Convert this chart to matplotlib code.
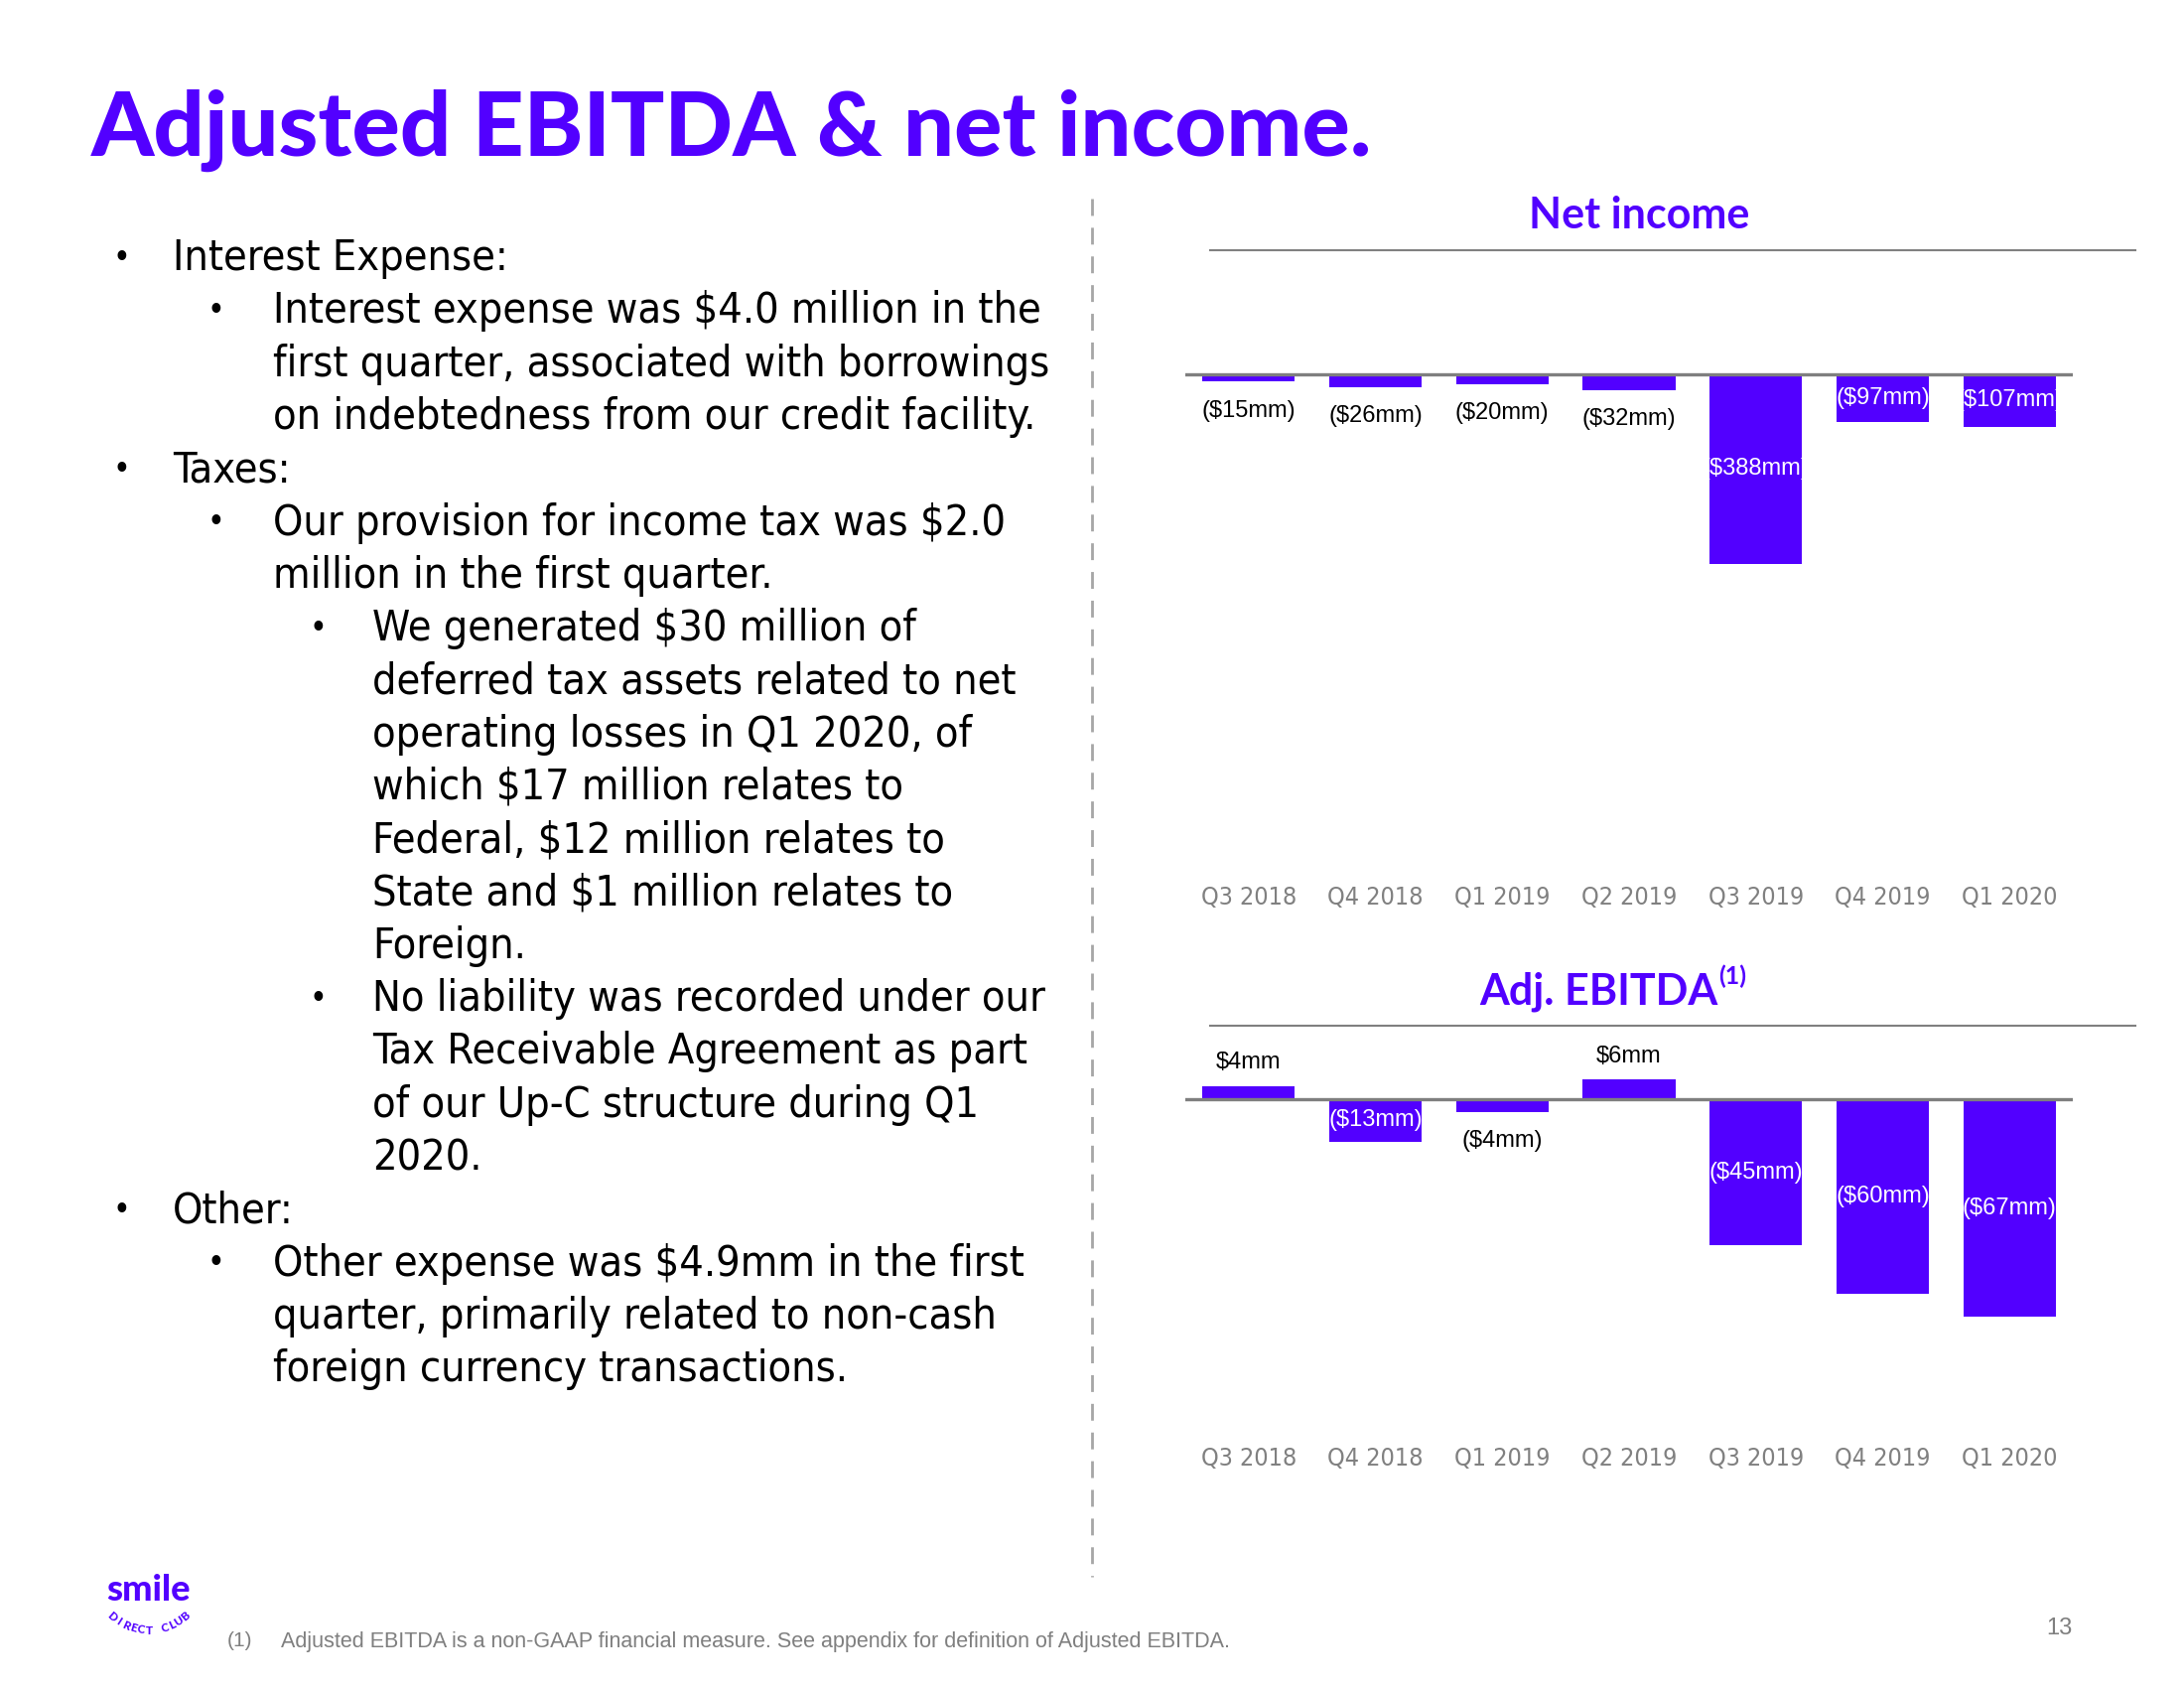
import matplotlib
matplotlib.use("Agg")
import matplotlib.pyplot as plt
from matplotlib.lines import Line2D
import numpy as np

W, H = 2200, 1700
purple = "#5200FF"
gray = "#7F7F7F"

quarters = ["Q3 2018", "Q4 2018", "Q1 2019", "Q2 2019", "Q3 2019", "Q4 2019", "Q1 2020"]
net_income = [-15, -26, -20, -32, -388, -97, -107]
net_income_labels = ["($15mm)", "($26mm)", "($20mm)", "($32mm)", "($388mm)", "($97mm)", "($107mm)"]
net_income_inside = [False, False, False, False, True, True, True]
adj_ebitda = [4, -13, -4, 6, -45, -60, -67]
adj_ebitda_labels = ["$4mm", "($13mm)", "($4mm)", "$6mm", "($45mm)", "($60mm)", "($67mm)"]
adj_ebitda_inside = [False, True, False, False, True, True, True]

bullets = [
    (1, ["Interest Expense:"]),
    (2, ["Interest expense was $4.0 million in the",
         "first quarter, associated with borrowings",
         "on indebtedness from our credit facility."]),
    (1, ["Taxes:"]),
    (2, ["Our provision for income tax was $2.0",
         "million in the first quarter."]),
    (3, ["We generated $30 million of",
         "deferred tax assets related to net",
         "operating losses in Q1 2020, of",
         "which $17 million relates to",
         "Federal, $12 million relates to",
         "State and $1 million relates to",
         "Foreign."]),
    (3, ["No liability was recorded under our",
         "Tax Receivable Agreement as part",
         "of our Up-C structure during Q1",
         "2020."]),
    (1, ["Other:"]),
    (2, ["Other expense was $4.9mm in the first",
         "quarter, primarily related to non-cash",
         "foreign currency transactions."]),
]

body_font = dict(family="DejaVu Sans", stretch="condensed")
label_font = "Liberation Sans"

fig = plt.figure(figsize=(22, 17), dpi=100)


def fx(x):
    return x / W


def fy(y):
    return 1 - y / H


# title
fig.text(fx(92), fy(157), "Adjusted EBITDA & net income.", family="Lato", weight="black",
         fontsize=65, color=purple, va="baseline", ha="left")

# bullet text
bullet_x = {1: 122, 2: 217, 3: 320}
text_x = {1: 174, 2: 275, 3: 375}
y = 260
for level, lines in bullets:
    fig.text(fx(bullet_x[level]), fy(y), "\u2022", fontsize=24, va="center", ha="center", **body_font)
    for line in lines:
        fig.text(fx(text_x[level]), fy(y), line, fontsize=31, va="center", ha="left", **body_font)
        y += 53.3

# dashed separator
fig.add_artist(Line2D([fx(1100), fx(1100)], [fy(200), fy(1588)], color="#A6A6A6", lw=2,
                      linestyle=(0, (6.1, 4.3))))


def bar_panel(top, bottom, zero, scale, values, labels, inside, title, title_x, title_y, rule_y):
    x0, x1 = 1194, 2088
    ax = fig.add_axes([fx(x0), fy(bottom), (x1 - x0) / W, (bottom - top) / H])
    ax.set_xlim(-0.5, 6.5)
    ax.set_ylim(-(bottom - zero) / scale, (zero - top) / scale)
    xs = np.arange(len(values))
    ax.bar(xs, values, width=0.73, color=purple, zorder=2)
    ax.axhline(0, color=gray, lw=2.4, zorder=3)
    for x, v, lab, ins in zip(xs, values, labels, inside):
        if ins:
            ax.text(x, v / 2, lab, ha="center", va="center", color="white",
                    family=label_font, fontsize=17)
        else:
            off = 17 if v > 0 else -21
            ax.annotate(lab, (x, v), xytext=(0, off), textcoords="offset points",
                        ha="center", va="center", color="black",
                        family=label_font, fontsize=17)
    ax.set_xticks(xs)
    ax.set_xticklabels(quarters, color="#808080", fontsize=18, **body_font)
    ax.tick_params(axis="x", length=0, pad=16)
    ax.set_yticks([])
    for s in ax.spines.values():
        s.set_visible(False)
    ax.patch.set_alpha(0)
    fig.add_artist(Line2D([fx(1219), fx(2151)], [fy(rule_y), fy(rule_y)], color="#808080", lw=1.5))
    t = fig.text(fx(title_x), fy(title_y), title,
                 family="Lato", weight="bold", fontsize=31, color=purple, ha="center", va="center")
    return ax, t


bar_panel(270, 870, 377, 0.492, net_income, net_income_labels, net_income_inside,
          "Net income", 1651, 217, 252)
ax2, t2 = bar_panel(1040, 1435, 1107, 3.27, adj_ebitda, adj_ebitda_labels, adj_ebitda_inside,
                    "Adj. EBITDA", 1610, 999, 1033)
fig.add_artist(plt.Annotation("(1)", xy=(1, 1), xycoords=t2, xytext=(1, 5),
                              textcoords="offset points", family="Lato", weight="bold",
                              fontsize=18, color=purple, ha="left", va="top"))

# logo
fig.text(fx(149), fy(1601), "smile", family="Lato", weight="black", fontsize=26,
         color=purple, ha="center", va="center")
arc_text = "DIRECT CLUB"
cx, cy, r = 150, 1586, 56
angs = np.linspace(229, 311, len(arc_text))
for ch, a in zip(arc_text, angs):
    rad = np.deg2rad(a)
    px = cx + r * np.cos(rad)
    py = cy - r * np.sin(rad)
    fig.text(fx(px), fy(py), ch, family="Lato", weight="black", fontsize=8.5, color=purple,
             rotation=a + 90, ha="center", va="center", rotation_mode="anchor")

# footnote & page number
fig.text(fx(241), fy(1653), "(1)", family="Liberation Sans", fontsize=15, color=gray,
         ha="center", va="center")
fig.text(fx(283), fy(1653), "Adjusted EBITDA is a non-GAAP financial measure. See appendix for definition of Adjusted EBITDA.",
         family="Liberation Sans", fontsize=15.5, color=gray, ha="left", va="center")
fig.text(fx(2074), fy(1640), "13", family="Liberation Sans", fontsize=17, color=gray,
         ha="center", va="center")

fig.savefig("out.png", dpi=100)
